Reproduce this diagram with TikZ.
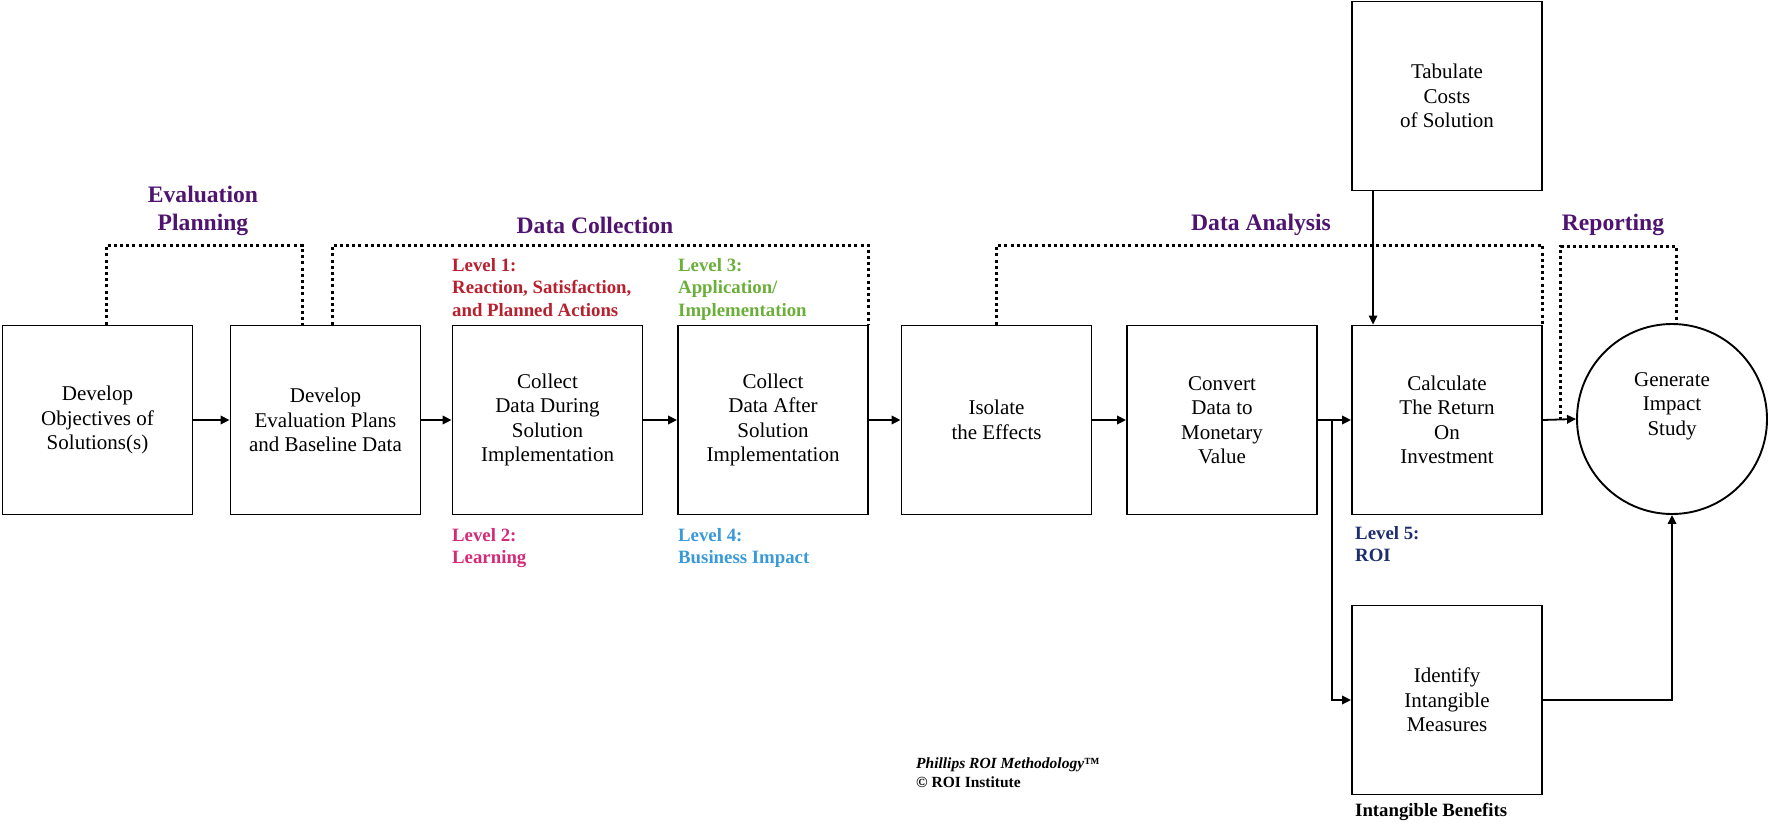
\documentclass[tikz,border=0pt]{standalone}
\usepackage{fontspec}
\setmainfont{Liberation Serif}
\usetikzlibrary{arrows.meta,calc}
\definecolor{phase}{HTML}{4F1470}
\definecolor{lvone}{HTML}{B8202E}
\definecolor{lvtwo}{HTML}{D42A78}
\definecolor{lvthree}{HTML}{6BAF3A}
\definecolor{lvfour}{HTML}{3A9AD9}
\definecolor{lvfive}{HTML}{1E2D6E}
\begin{document}
\begin{tikzpicture}[x=1pt,y=-1pt,
  box/.style={draw, line width=1.9pt, minimum width=190pt, minimum height=189pt, inner sep=0pt, align=center, font=\fontsize{21}{24.5}\selectfont},
  conn/.style={line width=1.8pt, -{Triangle[length=9pt,width=8.5pt]}},
  dots/.style={line width=3pt, dash pattern=on 3pt off 3.2pt},
  phasetxt/.style={font=\fontsize{23.6}{28}\selectfont\bfseries, text=phase, align=center},
  lvl/.style={font=\fontsize{18.8}{22.5}\selectfont\bfseries, align=left, anchor=north west, inner sep=0pt}]
\fill[white] (0,0) rectangle (1769,828);
\useasboundingbox (0,0) rectangle (1769,828);

% boxes
\node[box] (b1) at (97.5,420) {Develop\\Objectives of\\Solutions(s)};
\node[box] (b2) at (325.5,420) {Develop\\Evaluation Plans\\and Baseline Data};
\node[box] (b3) at (547.5,420) {Collect\\Data During\\Solution\\Implementation};
\node[box] (b4) at (773,420) {Collect\\Data After\\Solution\\Implementation};
\node[box] (b5) at (996.5,420) {Isolate\\the Effects};
\node[box] (b6) at (1222,420) {Convert\\Data to\\Monetary\\Value};
\node[box] (b7) at (1447,420) {Calculate\\The Return\\On\\Investment};
\node[box] (tab) at (1447,96) {Tabulate\\Costs\\of Solution};
\node[box] (ident) at (1447,700) {Identify\\Intangible\\Measures};
\node[draw, circle, line width=1.9pt, minimum size=190pt, inner sep=0pt] (circ) at (1672,419) {};
\node[align=center, font=\fontsize{21}{24.5}\selectfont] (circtext) at ([yshift=13pt]circ.center) {Generate\\Impact\\Study};

% connectors
\draw[conn] (b1.east) -- (b2.west);
\draw[conn] (b2.east) -- (b3.west);
\draw[conn] (b3.east) -- (b4.west);
\draw[conn] (b4.east) -- (b5.west);
\draw[conn] (b5.east) -- (b6.west);
\draw[conn] (b6.east) -- (b7.west);
\coordinate (br) at ($(b6.east)+(14,0)$);
\draw[conn] (br) |- (ident.west);
\draw[conn] (ident.east) -| (circ.south);
\draw[conn] (b7.east) -- (circ.west);
\draw[conn] ([xshift=22pt]tab.south west) -- ([xshift=22pt]b7.north west);

% dotted phase brackets
\draw[dots] ([xshift=8.5pt]b1.north) -- ++(0,-79) -| ([xshift=-23pt]b2.north);
\draw[dots] ([xshift=6.5pt]b2.north) -- ++(0,-79) -| (b4.north east);
\draw[dots] (b5.north) -- ++(0,-79) -| (b7.north east);
\draw[dots] ([xshift=18pt]b7.east) -- ++(0,-174) -| ([xshift=4pt]circ.north);

% phase labels
\node[phasetxt] (ep) at (203,211) {Evaluation\\Planning};
\node[phasetxt] (dc) at (595,225) {Data Collection};
\node[phasetxt] (da) at (1261,225) {Data Analysis};
\node[phasetxt] (rp) at (1613,225) {Reporting};

% level labels
\node[lvl, text=lvone] (l1) at (452,258) {Level 1:\\Reaction, Satisfaction,\\and Planned Actions};
\node[lvl, text=lvthree] (l3) at (678,258) {Level 3:\\Application/\\Implementation};
\node[lvl, text=lvtwo] (l2) at (452,528) {Level 2:\\Learning};
\node[lvl, text=lvfour] (l4) at (678,528) {Level 4:\\Business Impact};
\node[lvl, text=lvfive] (l5) at (1355,526) {Level 5:\\ROI};
\node[lvl] (ib) at (1355,803) {Intangible Benefits};

% footer
\node[anchor=north west, inner sep=0pt, align=left, font=\fontsize{15.5}{19}\selectfont\bfseries] (cr) at (916,758) {\textit{Phillips ROI Methodology}™\\© ROI Institute};
\end{tikzpicture}
\end{document}
